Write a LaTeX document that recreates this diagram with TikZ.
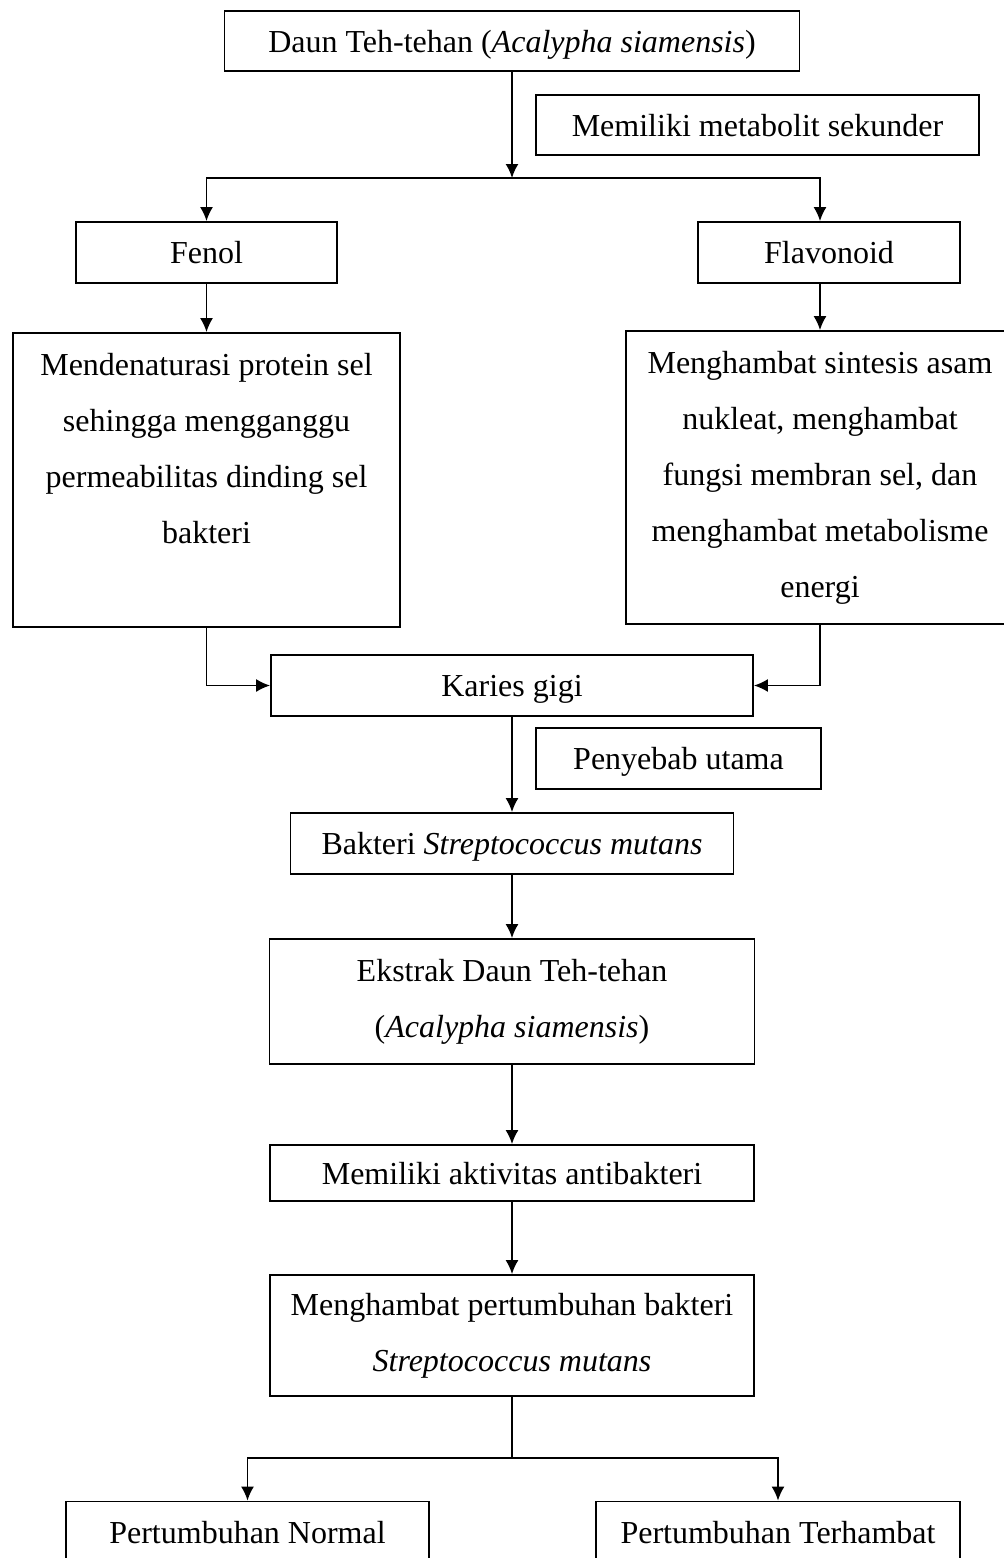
\documentclass[tikz,border=0pt]{standalone}
\usepackage{fontspec}
\setmainfont{Liberation Serif}
\usetikzlibrary{shapes, arrows.meta, positioning}

\begin{document}
\begin{tikzpicture}[x=0.5pt, y=-0.5pt, node distance=79pt, auto, line width=0.9pt]
    \tikzstyle{box} = [rectangle, draw, fill=white, align=center, inner sep=0pt, minimum height=30.5pt, font=\fontsize{16}{28}\selectfont]
    \tikzstyle{block} = [box, text depth=0pt]
    \tikzstyle{line} = [draw, -{Latex[length=7pt, width=6.5pt]}]
    \useasboundingbox (0,0) rectangle (1004,1558);
    \clip (0,0) rectangle (1004,1558);

    \node [block, minimum width=287.5pt, minimum height=30pt] (daun) at (512,41) {Daun Teh-tehan (\textit{Acalypha siamensis})};
    \node [block, minimum width=221.5pt, minimum height=30pt] (sekunder) at (757.5,125) {Memiliki metabolit sekunder};
    \node [block, minimum width=130.5pt] (fenol) at (206.5,252.5) {Fenol};
    \node [block, minimum width=131pt] (flavo) at (829,252.5) {Flavonoid};
    \node [box, minimum width=193.5pt, minimum height=147pt] (denat) at (206.5,480) {Mendenaturasi protein sel\\sehingga mengganggu\\permeabilitas dinding sel\\bakteri\\\vphantom{g}};
    \node [box, minimum width=194pt, minimum height=146.5pt] (sintesis) at (820,477.5) {Menghambat sintesis asam\\nukleat, menghambat\\fungsi membran sel, dan\\menghambat metabolisme\\energi};
    \node [block, below of=daun, node distance=322.25pt, minimum width=241pt] (karies) {Karies gigi};
    \node [block, minimum width=142.5pt] (penyebab) at (678.5,758.5) {Penyebab utama};
    \node [block, below of=karies, minimum width=221.5pt] (bakteri) {Bakteri \textit{Streptococcus mutans}};
    \node [box, below of=bakteri, minimum width=242.5pt, minimum height=62.5pt] (ekstrak) {Ekstrak Daun Teh-tehan\\(\textit{Acalypha siamensis})};
    \node [block, below of=ekstrak, node distance=85.75pt, minimum width=242pt, minimum height=28pt] (aktivitas) {Memiliki aktivitas antibakteri};
    \node [box, below of=aktivitas, node distance=81.25pt, minimum width=242pt, minimum height=60.5pt] (hambat) {Menghambat pertumbuhan bakteri\\\textit{Streptococcus mutans}};
    \node [block, minimum width=181.5pt] (normal) at (247.5,1532) {Pertumbuhan Normal};
    \node [block, minimum width=182pt] (terhambat) at (778,1532) {Pertumbuhan Terhambat};

    \coordinate (cabang) at (512,178);
    \coordinate (hasil) at (512,1458);

    \path [line] (daun) -- (cabang);
    \path [line] (cabang) -| (fenol);
    \path [line] (cabang) -| (sintesis.north |- flavo.north);
    \path [line] (fenol) -- (denat);
    \path [line] (sintesis.north |- flavo.south) -- (sintesis);
    \path [line] (denat) |- (karies);
    \path [line] (sintesis) |- (karies);
    \path [line] (karies) -- (bakteri);
    \path [line] (bakteri) -- (ekstrak);
    \path [line] (ekstrak) -- (aktivitas);
    \path [line] (aktivitas) -- (hambat);
    \draw (hambat) -- (hasil);
    \path [line] (hasil) -| (normal);
    \path [line] (hasil) -| (terhambat);
\end{tikzpicture}
\end{document}
